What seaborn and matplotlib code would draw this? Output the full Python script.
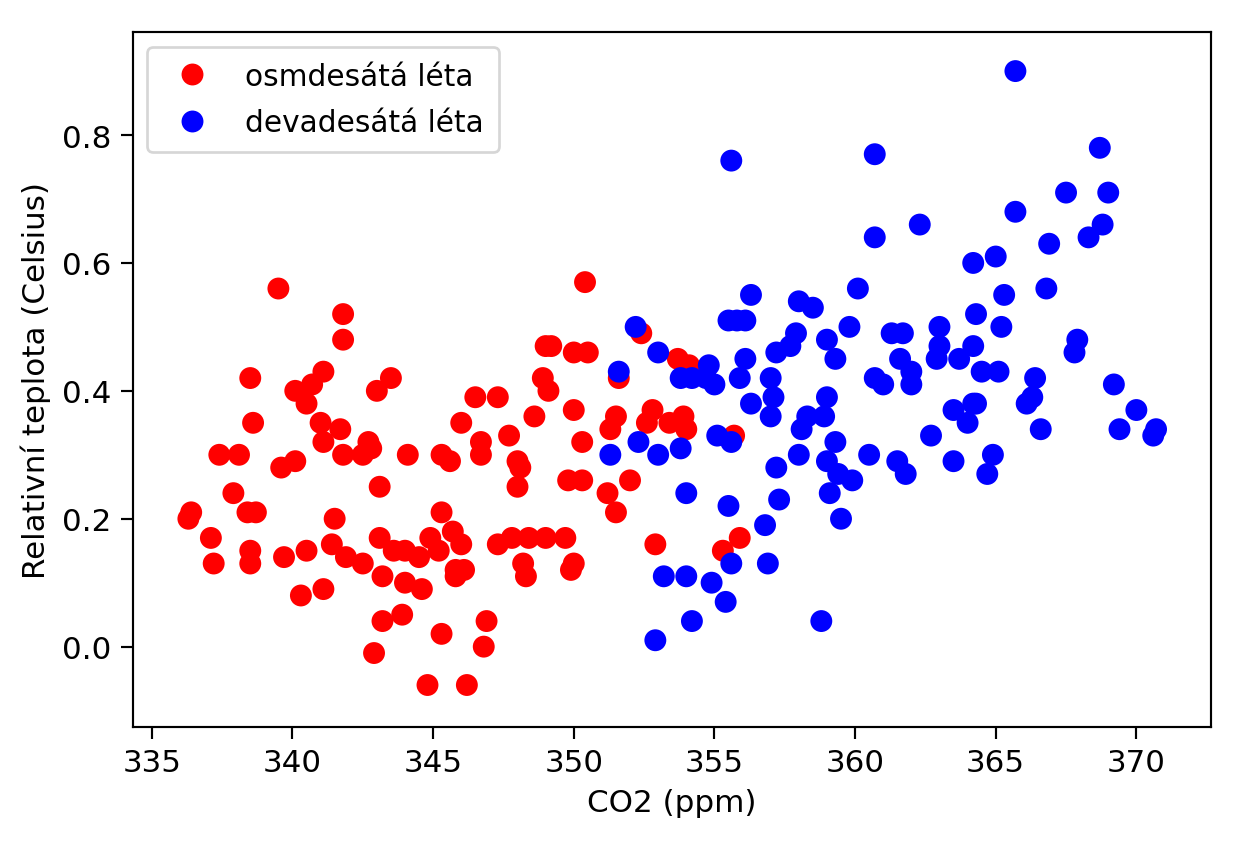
import pandas as pd
import seaborn as sns
import matplotlib
matplotlib.use("Agg")
import matplotlib.pyplot as plt

# 80s (red) - CO2 ppm vs relative temperature
red_x = [339.5, 341.8, 341.8, 338.5, 341.1, 340.7, 340.1, 340.5, 343.5, 343.0,
         338.6, 341.0, 341.7, 341.1, 342.7, 337.4, 338.1, 340.1, 339.6, 341.8,
         342.5, 342.8, 344.1, 345.3, 345.6, 343.1, 337.9, 338.4, 338.7, 336.3,
         336.4, 337.1, 337.2, 338.5, 338.5, 339.7, 340.5, 341.5, 341.4, 341.9,
         342.5, 345.3, 343.1, 343.6, 344.0, 344.5, 344.9, 345.2, 345.7, 343.2,
         345.8, 344.0, 344.6, 340.3, 341.1, 343.2, 343.9, 345.3, 342.9, 344.8,
         350.4, 352.4, 353.7, 354.1, 351.6, 349.0, 349.2, 350.0, 350.5, 348.9,
         349.1, 346.5, 347.3, 346.0, 348.6, 350.0, 347.7, 346.7, 346.7, 350.3,
         351.5, 351.3, 352.8, 353.4, 353.9, 354.0, 352.6, 355.7, 348.0, 348.1,
         348.0, 349.8, 350.3, 352.0, 351.2, 351.5, 346.0, 346.1, 345.8, 347.3,
         347.8, 348.4, 349.0, 349.7, 348.2, 348.3, 350.0, 349.9, 352.9, 355.9,
         355.3, 346.9, 346.8, 346.2]
red_y = [0.56, 0.52, 0.48, 0.42, 0.43, 0.41, 0.40, 0.38, 0.42, 0.40,
         0.35, 0.35, 0.34, 0.32, 0.32, 0.30, 0.30, 0.29, 0.28, 0.30,
         0.30, 0.31, 0.30, 0.30, 0.29, 0.25, 0.24, 0.21, 0.21, 0.20,
         0.21, 0.17, 0.13, 0.15, 0.13, 0.14, 0.15, 0.20, 0.16, 0.14,
         0.13, 0.21, 0.17, 0.15, 0.15, 0.14, 0.17, 0.15, 0.18, 0.11,
         0.11, 0.10, 0.09, 0.08, 0.09, 0.04, 0.05, 0.02, -0.01, -0.06,
         0.57, 0.49, 0.45, 0.44, 0.42, 0.47, 0.47, 0.46, 0.46, 0.42,
         0.40, 0.39, 0.39, 0.35, 0.36, 0.37, 0.33, 0.32, 0.30, 0.32,
         0.36, 0.34, 0.37, 0.35, 0.36, 0.34, 0.35, 0.33, 0.29, 0.28,
         0.25, 0.26, 0.26, 0.26, 0.24, 0.21, 0.16, 0.12, 0.12, 0.16,
         0.17, 0.17, 0.17, 0.17, 0.13, 0.11, 0.13, 0.12, 0.16, 0.17,
         0.15, 0.04, 0.00, -0.06]

# 90s (blue)
blue_x = [356.3, 355.5, 355.8, 356.1, 352.2, 353.0, 353.8, 354.2, 354.7, 355.0,
          354.8, 356.1, 355.9, 351.6, 356.3, 352.3, 351.3, 353.0, 353.8, 355.1,
          355.6, 354.0, 355.5, 355.6, 353.2, 354.0, 354.9, 355.4, 354.2, 352.9,
          365.7, 368.8, 368.3, 360.7, 362.3, 366.9, 364.2, 365.0, 360.1, 366.8,
          365.3, 358.0, 358.5, 364.3, 359.8, 357.9, 357.7, 357.2, 359.0, 359.3,
          361.3, 361.7, 363.0, 363.0, 362.9, 363.7, 364.2, 365.2, 361.6, 362.0,
          362.0, 360.7, 361.0, 364.5, 365.1, 367.9, 367.8, 366.4, 366.3, 366.1,
          369.2, 370.0, 369.4, 370.6, 370.7, 366.6, 357.0, 357.1, 357.0, 359.0,
          358.3, 358.9, 358.1, 359.3, 359.0, 359.4, 359.9, 359.1, 358.0, 357.2,
          357.3, 356.8, 356.9, 359.5, 360.5, 361.5, 361.8, 362.7, 363.5, 364.2,
          364.3, 364.0, 363.5, 364.9, 364.7, 358.8, 367.5, 369.0, 368.7, 360.7,
          355.6, 365.7]
blue_y = [0.55, 0.51, 0.51, 0.51, 0.50, 0.46, 0.42, 0.42, 0.42, 0.41,
          0.44, 0.45, 0.42, 0.43, 0.38, 0.32, 0.30, 0.30, 0.31, 0.33,
          0.32, 0.24, 0.22, 0.13, 0.11, 0.11, 0.10, 0.07, 0.04, 0.01,
          0.68, 0.66, 0.64, 0.64, 0.66, 0.63, 0.60, 0.61, 0.56, 0.56,
          0.55, 0.54, 0.53, 0.52, 0.50, 0.49, 0.47, 0.46, 0.48, 0.45,
          0.49, 0.49, 0.50, 0.47, 0.45, 0.45, 0.47, 0.50, 0.45, 0.43,
          0.41, 0.42, 0.41, 0.43, 0.43, 0.48, 0.46, 0.42, 0.39, 0.38,
          0.41, 0.37, 0.34, 0.33, 0.34, 0.34, 0.42, 0.39, 0.36, 0.39,
          0.36, 0.36, 0.34, 0.32, 0.29, 0.27, 0.26, 0.24, 0.30, 0.28,
          0.23, 0.19, 0.13, 0.20, 0.30, 0.29, 0.27, 0.33, 0.37, 0.38,
          0.38, 0.35, 0.29, 0.30, 0.27, 0.04, 0.71, 0.71, 0.78, 0.77,
          0.76, 0.90]

labels = ["osmdesátá léta", "devadesátá léta"]
colors = {"osmdesátá léta": "red", "devadesátá léta": "blue"}

df = pd.DataFrame({
    "co2": red_x + blue_x,
    "temp": red_y + blue_y,
    "decade": [labels[0]] * len(red_x) + [labels[1]] * len(blue_x),
})

plt.rcParams["font.size"] = 11.5
plt.rcParams["xtick.major.size"] = 4.5
plt.rcParams["ytick.major.size"] = 4.5

dpi = 194
fig, ax = plt.subplots(figsize=(1240 / dpi, 848 / dpi), dpi=dpi)
fig.subplots_adjust(left=0.107, right=0.977, bottom=0.142, top=0.961)

sns.scatterplot(data=df, x="co2", y="temp", hue="decade", hue_order=labels,
                palette=colors, s=66, linewidth=0, ax=ax)

ax.set_xlim(334.32, 372.67)
ax.set_ylim(-0.125, 0.961)
ax.set_xticks([335, 340, 345, 350, 355, 360, 365, 370])
ax.set_yticks([0.0, 0.2, 0.4, 0.6, 0.8])
ax.set_xlabel("CO2 (ppm)")
ax.set_ylabel("Relativní teplota (Celsius)")

handles, lbls = ax.get_legend_handles_labels()
ax.legend(handles, lbls, loc="upper left", fontsize=11,
          labelspacing=0.6, borderpad=0.5)

fig.savefig("out.png", dpi=dpi)
